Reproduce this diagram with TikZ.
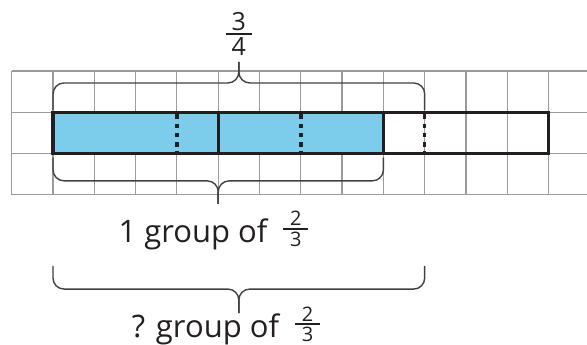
\documentclass[tikz,border=0pt]{standalone}
\usepackage{fontspec}
\setmainfont{Open Sans}
\usepackage{xcolor}
\definecolor{barblue}{RGB}{124,205,235}
\definecolor{gridgray}{RGB}{155,155,155}
\definecolor{barblack}{RGB}{35,31,32}
\definecolor{bracegray}{RGB}{65,64,66}
\usetikzlibrary{positioning}
% stacked fraction: size, bar width, numerator, denominator
\newcommand{\stackfrac}[4]{\vbox{\fontsize{#1}{#1}\selectfont
  \hbox to #2{\hss#3\hss}\kern2pt\hrule height 2pt\kern2pt\hbox to #2{\hss#4\hss}}}

\begin{document}
\begin{tikzpicture}[x=41.3pt, y=-41.3pt,
  gridline/.style={draw=gridgray, line width=1.2pt},
  barline/.style={draw=barblack, line width=3.5pt},
  thirdline/.style={draw=barblack, line width=3pt},
  quarterline/.style={draw=barblack, line width=3.5pt, dash pattern=on 4.6pt off 4.6pt, dash phase=7pt},
  brc/.style={draw=bracegray, line width=1.4pt, rounded corners=11pt},
  lbl/.style={inner sep=0pt, text=barblack, font=\fontsize{31}{31}\selectfont}
]
\clip (-0.2833,-1.7191) rectangle (13.930,6.634);
% grid
\foreach \i in {0,...,14} \draw[gridline] (\i,0) -- (\i,3);
\foreach \j in {0,...,3} \draw[gridline] (0,\j) -- (14,\j);
% tape
\fill[barblue] (1,1) rectangle (9,2);
\draw[thirdline] (5,1) -- (5,2);
\draw[thirdline] (9,1) -- (9,2);
\foreach \q in {4,7,10} \draw[quarterline] (\q,1) -- (\q,2);
\draw[barline] (1,1) rectangle (13,2);
% braces
\draw[brc] (1,0.95) |- (5.5,0.29) -- (5.5,-0.22);
\draw[brc] (10,0.95) |- (5.5,0.29) -- (5.5,-0.22);
\draw[brc] (1,2.1) |- (5,2.66) -- (5,3.22);
\draw[brc] (9,2.1) |- (5,2.66) -- (5,3.22);
\draw[brc] (1,4.72) |- (5.5,5.28) -- (5.5,5.86);
\draw[brc] (10,4.72) |- (5.5,5.28) -- (5.5,5.86);
% labels
\node[lbl, anchor=base] (quarterlbl) at (5.5,-0.387) {\stackfrac{25}{26pt}{3}{4}};
\node[lbl, anchor=base] (onegroup) at (4.886,4.157) {1 group of\hspace{16pt}\lower3.5pt\stackfrac{20}{25pt}{2}{3}};
\node[lbl, anchor=base] (whatgroup) at (5.189,6.465) {? group of\hspace{16pt}\lower3.5pt\stackfrac{20}{25pt}{2}{3}};
\end{tikzpicture}
\end{document}
